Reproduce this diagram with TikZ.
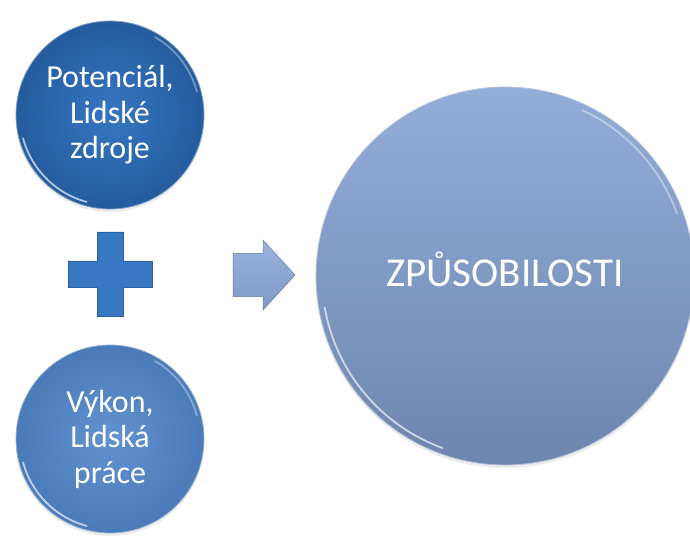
\documentclass[tikz,border=0pt]{standalone}
\usepackage{fontspec}
\setmainfont{Carlito}
\usetikzlibrary{calc,positioning,shadows}
\definecolor{potin}{HTML}{3676C1}
\definecolor{potout}{HTML}{245C9E}
\definecolor{vykin}{HTML}{6293CF}
\definecolor{vykout}{HTML}{4A7AB8}
\definecolor{zputop}{HTML}{93ADD9}
\definecolor{zpubot}{HTML}{6E86AE}
\definecolor{plusblue}{HTML}{3878C3}
\definecolor{plusedge}{HTML}{2A62A6}
\definecolor{arrtop}{HTML}{9AB3DD}
\definecolor{arrbot}{HTML}{7E99C6}

\begin{document}
\begin{tikzpicture}[x=1pt,y=1pt,
  ball/.style={circle,inner sep=0pt,align=center,text=white,
    drop shadow={opacity=0.15,shadow xshift=0pt,shadow yshift=-3pt}},
  small/.style={ball,minimum size=188pt,font=\fontsize{32}{35.5}\selectfont},
  rim/.style={white,opacity=0.65,line width=1.8pt,line cap=round}]
\useasboundingbox (0,0) rectangle (690,536);
\node[small,inner color=potin,outer color=potout,draw=potout!60!white,line width=0.8pt] (pot) at (110,421) {Potenciál,\\Lidské\\zdroje};
\node[small,inner color=vykin,outer color=vykout,draw=vykout!60!white,line width=0.8pt] (vyk) at (110,97) {Výkon,\\Lidská\\práce};
\node[ball,minimum size=378pt,top color=zputop,bottom color=zpubot,draw=zpubot!50!white,line width=0.8pt,font=\fontsize{41}{48}\selectfont,text depth=14pt] (zpu) at (505,260) {ZPŮSOBILOSTI};
\draw[rim] ($(pot.center)+(195:90pt)$) arc[start angle=195,end angle=255,radius=90pt];
\draw[rim,opacity=0.35] ($(pot.center)+(15:90pt)$) arc[start angle=15,end angle=60,radius=90pt];
\draw[rim] ($(vyk.center)+(195:90pt)$) arc[start angle=195,end angle=255,radius=90pt];
\draw[rim,opacity=0.35] ($(vyk.center)+(15:90pt)$) arc[start angle=15,end angle=60,radius=90pt];
\draw[rim] ($(zpu.center)+(190:183pt)$) arc[start angle=190,end angle=250,radius=183pt];
\draw[rim,opacity=0.4] ($(zpu.center)+(20:183pt)$) arc[start angle=20,end angle=65,radius=183pt];
\coordinate (plus) at (110,262);
\fill[plusblue,draw=plusedge,line width=0.8pt] (plus) ++(-13,42) -- ++(26,0) -- ++(0,-29) -- ++(29,0) -- ++(0,-26) -- ++(-29,0) -- ++(0,-29) -- ++(-26,0) -- ++(0,29) -- ++(-29,0) -- ++(0,26) -- ++(29,0) -- cycle;
\coordinate (arw) at (233,261);
\shade[top color=arrtop,bottom color=arrbot,draw=arrbot!80!black,line width=0.5pt] (arw) ++(0,21.5) -- ++(30,0) -- ++(0,13.5) -- ++(32,-35) -- ++(-32,-35) -- ++(0,13.5) -- ++(-30,0) -- cycle;
\end{tikzpicture}
\end{document}
